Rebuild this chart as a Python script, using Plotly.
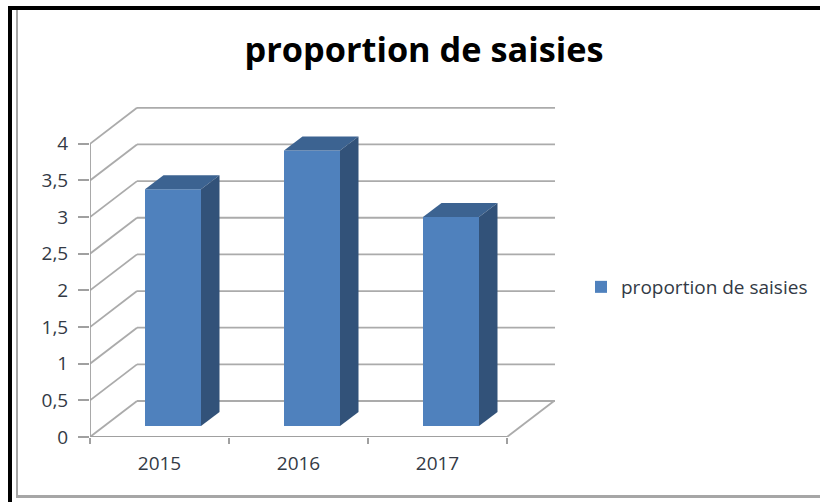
import plotly.graph_objects as go

# Data
categories = ["2015", "2016", "2017"]
values = [3.23, 3.76, 2.85]
series_name = "proportion de saisies"
y_ticks = [0, 0.5, 1, 1.5, 2, 2.5, 3, 3.5, 4]
y_tick_labels = ["0", "0,5", "1", "1,5", "2", "2,5", "3", "3,5", "4"]

# Pseudo-3D geometry, in axis units
W, H = 820, 502
L, R, T, B = 90, 555, 107, 437
CAT_PX, UNIT_PX = 139.0, 73.3
wall_dx, wall_dy = 47 / CAT_PX, 36 / UNIT_PX
x_max = (R - L) / CAT_PX
y_max = (B - T) / UNIT_PX
n = len(categories)
bar_w = 56 / CAT_PX
bar_shift = 13.5 / CAT_PX
bar_base = 11 / UNIT_PX
bar_dx, bar_dy = 18.5 / CAT_PX, 14 / UNIT_PX

FRONT, TOP, SIDE = "#4f81bd", "#3c6391", "#325279"
GRID = "#ababab"
AXIS = "#a0a0a0"
TEXT = "#333a45"
FONT = "Open Sans"


def line(x0, y0, x1, y1, color=GRID, width=1.8):
    return dict(type="line", xref="x", yref="y", x0=x0, y0=y0, x1=x1, y1=y1,
                layer="below", line=dict(color=color, width=width))


def px_rect(x0, y0, x1, y1, color):
    return dict(type="rect", xref="paper", yref="paper",
                x0=(x0 - L) / (R - L), x1=(x1 - L) / (R - L),
                y0=(B - y0) / (B - T), y1=(B - y1) / (B - T),
                fillcolor=color, line=dict(width=0), layer="below")


shapes = []
for v in y_ticks:
    shapes.append(line(0, v, wall_dx, v + wall_dy))
    shapes.append(line(wall_dx, v + wall_dy, x_max, v + wall_dy))
shapes.append(line(0, 0, 0, y_ticks[-1], AXIS))
shapes.append(line(0, 0, n, 0, AXIS, 2))
shapes.append(line(n, 0, n + wall_dx, wall_dy))
shapes += [
    px_rect(8, 6, 820, 10, "#000000"),
    px_rect(8, 6, 12, 502, "#000000"),
    px_rect(16, 10, 18, 497, "#a6a6a6"),
    px_rect(16, 495, 820, 498, "#a6a6a6"),
]

centers = [i + 0.5 + bar_shift for i in range(n)]

fig = go.Figure()
fig.add_trace(go.Bar(x=centers, y=values, base=bar_base, width=bar_w,
                     marker=dict(color=FRONT, line=dict(width=0)),
                     name=series_name, showlegend=True))
for c, v in zip(centers, values):
    xl, xr = c - bar_w / 2, c + bar_w / 2
    top = bar_base + v
    fig.add_trace(go.Scatter(
        x=[xl, xr, xr + bar_dx, xl + bar_dx, xl],
        y=[top, top, top + bar_dy, top + bar_dy, top],
        fill="toself", fillcolor=TOP, mode="lines", line=dict(width=0),
        showlegend=False, hoverinfo="skip"))
    fig.add_trace(go.Scatter(
        x=[xr, xr + bar_dx, xr + bar_dx, xr, xr],
        y=[bar_base, bar_base + bar_dy, top + bar_dy, top, bar_base],
        fill="toself", fillcolor=SIDE, mode="lines", line=dict(width=0),
        showlegend=False, hoverinfo="skip"))

fig.update_layout(
    width=W, height=H, autosize=False,
    margin=dict(l=L, r=W - R, t=T, b=H - B, pad=0, autoexpand=False),
    paper_bgcolor="white", plot_bgcolor="rgba(0,0,0,0)",
    font=dict(family=FONT, color=TEXT, size=18),
    title=dict(text=series_name, x=424 / W, xanchor="center", y=1 - 50 / H, yanchor="middle",
               font=dict(family="Open Sans", size=34.3, color="#000000", weight="bold")),
    shapes=shapes,
    legend=dict(x=(581 - L) / (R - L), xanchor="left", y=(B - 287) / (B - T), yanchor="middle",
                font=dict(size=19, color=TEXT), bgcolor="rgba(0,0,0,0)", borderwidth=0,
                itemwidth=30),
    xaxis=dict(range=[0, x_max], showgrid=False, zeroline=False, showline=False,
               tickvals=[i + 0.5 for i in range(n)], ticktext=categories, ticks="",
               ticklabelstandoff=13, tickfont=dict(size=19),
               minor=dict(tickvals=list(range(n + 1)), ticks="outside", ticklen=6,
                          tickcolor=AXIS, tickwidth=1.5)),
    yaxis=dict(range=[0, y_max], showgrid=False, zeroline=False, showline=False,
               tickvals=y_ticks, ticktext=y_tick_labels, ticks="outside", ticklen=11,
               tickcolor=AXIS, tickwidth=1.5, ticklabelstandoff=6, tickfont=dict(size=19)),
)

fig.write_html("out.html", config={"displayModeBar": False},
               post_script="document.body.style.margin='0';document.body.style.overflow='hidden';")
